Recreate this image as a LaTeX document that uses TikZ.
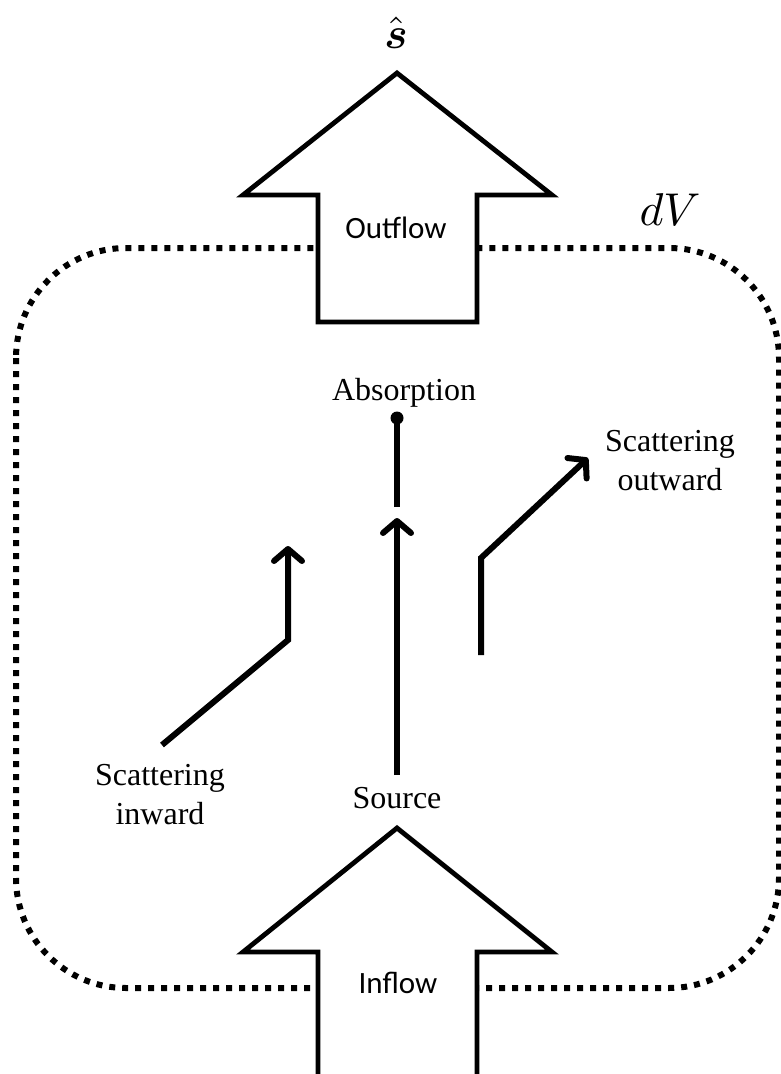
\documentclass[tikz,border=0pt]{standalone}
\usepackage{amsmath}
\usepackage{graphicx}
\usepackage{fontspec}
\setmainfont{Liberation Serif}
\newfontfamily\calibfont{Carlito}
\usetikzlibrary{arrows.meta}
\begin{document}
\begin{tikzpicture}[x=1pt,y=-1pt,
  lbl/.style={font=\fontsize{32}{39}\selectfont, inner sep=0pt, align=center},
  flowlbl/.style={font=\calibfont\fontsize{31}{37}\selectfont, inner sep=0pt},
  bigarrow/.style={draw, line width=4.8, fill=white, line join=miter},
  flowline/.style={line width=6, -{Straight Barb[length=12pt,width=28pt,line cap=round,line join=round]}},
  boundary/.style={line width=6, dash pattern=on 6 off 7, rounded corners=110},
]
\useasboundingbox (0,0) rectangle (781,1074);
% control volume boundary
\draw[boundary] (16,248) rectangle (779,988);
% outflow arrow
\draw[bigarrow] (318,322) -- (318,195) -- (243,195) -- (397,73) -- (552,195) -- (477,195) -- (477,322) -- cycle;
% inflow arrow (open at bottom)
\draw[bigarrow] (318,1080) -- (318,952) -- (243,952) -- (397,828) -- (552,952) -- (477,952) -- (477,1080);
% labels
\node[anchor=base, inner sep=0pt] (shat) at (396,48) {\scalebox{4.4}{$\hat{\boldsymbol{s}}$}};
\node[anchor=base, inner sep=0pt] (dv) at (670,225) {\scalebox{4.6}{$dV$}};
\node[flowlbl, anchor=base] (outflow) at (396,238) {Outflow};
\node[flowlbl, anchor=base] (inflow) at (398,993) {Inflow};
\node[lbl, anchor=base] (absorption) at (404,400) {Absorption};
\node[lbl, anchor=base] (source) at (397,808) {Source};
\node[lbl] (scatout) at (670,461) {Scattering\\outward};
\node[lbl] (scatin) at (160,795) {Scattering\\inward};
% source arrow
\coordinate (srcstart) at (397,775);
\coordinate (srctip) at (397,518);
\draw[flowline] (srcstart) -- (srctip);
% absorption
\coordinate (absbot) at (397,507);
\node[circle, fill, inner sep=0pt, minimum size=13pt] (absdot) at (397,418) {};
\draw[line width=6] (absbot) -- (absdot.center);
% scattering inward
\coordinate (inA) at (162,745);
\coordinate (inB) at (288,640);
\coordinate (inC) at (288,546);
\draw[flowline] (inA) -- (inB) -- (inC);
% scattering outward
\coordinate (outA) at (481,655);
\coordinate (outB) at (481,558);
\coordinate (outC) at (588,458);
\draw[flowline] (outA) -- (outB) -- (outC);
\end{tikzpicture}
\end{document}
